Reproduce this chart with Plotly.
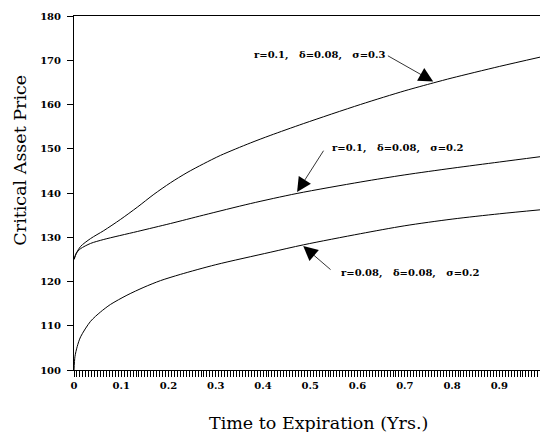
import plotly.graph_objects as go

# Time to expiration (years) and critical asset prices
t_s03 = [0, 0.005, 0.0137, 0.035, 0.063, 0.098, 0.134, 0.169, 0.204, 0.239, 0.274, 0.31, 0.373, 0.415, 0.486, 0.606, 0.7, 0.761, 0.8, 0.9, 0.986]
p_s03 = [125, 126.4, 127.9, 129.7, 131.5, 134.0, 136.8, 139.7, 142.3, 144.6, 146.6, 148.5, 151.3, 153.0, 155.7, 160.0, 163.1, 164.9, 166.0, 168.6, 170.7]

t_r10 = [0, 0.005, 0.0137, 0.035, 0.063, 0.134, 0.204, 0.274, 0.373, 0.472, 0.607, 0.7, 0.8, 0.9, 0.986]
p_r10 = [125, 126.4, 127.4, 128.6, 129.5, 131.3, 133.1, 135.0, 137.6, 139.9, 142.5, 144.1, 145.6, 147.0, 148.2]

t_r08 = [0, 0.002, 0.0068, 0.014, 0.035, 0.056, 0.077, 0.112, 0.148, 0.183, 0.225, 0.3, 0.415, 0.486, 0.606, 0.7, 0.8, 0.9, 0.986]
p_r08 = [100, 103.0, 105.3, 107.5, 111.0, 113.1, 114.8, 116.9, 118.7, 120.2, 121.6, 123.8, 126.6, 128.3, 130.8, 132.6, 134.1, 135.3, 136.2]

labels = ["r=0.1,   δ=0.08,   σ=0.3", "r=0.1,   δ=0.08,   σ=0.2", "r=0.08,   δ=0.08,   σ=0.2"]

y_ticks = [100, 110, 120, 130, 140, 150, 160, 170, 180]
x_ticks = [0, 0.1, 0.2, 0.3, 0.4, 0.5, 0.6, 0.7, 0.8, 0.9]
x_ticktext = ["0", "0.1", "0.2", "0.3", "0.4", "0.5", "0.6", "0.7", "0.8", "0.9"]

fig = go.Figure()
line = dict(color="black", width=1, shape="spline", smoothing=0.8)
fig.add_trace(go.Scatter(x=t_s03, y=p_s03, mode="lines", line=line, showlegend=False))
fig.add_trace(go.Scatter(x=t_r10, y=p_r10, mode="lines", line=line, showlegend=False))
fig.add_trace(go.Scatter(x=t_r08, y=p_r08, mode="lines", line=line, showlegend=False))

afont = dict(family="DejaVu Serif", size=10, color="black")

def lab(s):
    return "<b>" + s.replace(" ", "\u00a0") + "</b>"

# text labels
for (tx, ty, s) in [(0.519, 171.2, labels[0]), (0.684, 150.2, labels[1]), (0.711, 122.0, labels[2])]:
    fig.add_annotation(x=tx, y=ty, xref="x", yref="y", text=lab(s), showarrow=False, font=afont)

# arrows
for (hx, hy, tx, ty) in [(0.76, 165.2, 0.661, 171.2), (0.472, 140.2, 0.53, 149.9), (0.485, 128.0, 0.546, 122.4)]:
    fig.add_annotation(x=hx, y=hy, ax=tx, ay=ty, xref="x", yref="y", axref="x", ayref="y",
                       text="", showarrow=True, arrowhead=2, arrowsize=3.6, arrowwidth=0.8,
                       arrowcolor="black", standoff=0, startstandoff=0)

# axis titles
tfont = dict(family="DejaVu Serif", size=17.5, color="black")
fig.add_annotation(x=0.524, y=-0.150, xref="paper", yref="paper", text="Time to Expiration (Yrs.)",
                   showarrow=False, font=tfont, xanchor="center", yanchor="middle")
fig.add_annotation(x=-0.1147, y=0.593, xref="paper", yref="paper", text="Critical Asset Price",
                   showarrow=False, font=tfont, textangle=-90, xanchor="center", yanchor="middle")

fig.update_layout(
    width=540, height=432,
    margin=dict(l=73.5, r=0, t=16, b=62),
    paper_bgcolor="white", plot_bgcolor="white",
    font=dict(family="DejaVu Serif", color="black"),
)
fig.update_xaxes(
    range=[0, 0.986], showgrid=False, zeroline=False, automargin=False,
    showline=True, linecolor="black", linewidth=1, mirror=True,
    ticks="outside", ticklen=6, tickwidth=1, tickcolor="black",
    tickvals=x_ticks, ticktext=x_ticktext,
    tickfont=dict(family="DejaVu Serif", size=10, color="black", weight="bold"),
    minor=dict(dtick=0.00625, tick0=0, ticks="outside", ticklen=6, tickwidth=1, tickcolor="black"),
)
fig.update_yaxes(
    range=[100, 180], showgrid=False, zeroline=False, automargin=False,
    showline=True, linecolor="black", linewidth=1, mirror=False,
    ticks="outside", ticklen=6, tickwidth=1, tickcolor="black",
    tickvals=y_ticks,
    tickfont=dict(family="DejaVu Serif", size=10, color="black", weight="bold"),
    ticklabelstandoff=4,
)

fig.write_html("out.html", config={"displayModeBar": False},
               post_script="document.body.style.margin='0px';document.body.style.overflow='hidden';")
